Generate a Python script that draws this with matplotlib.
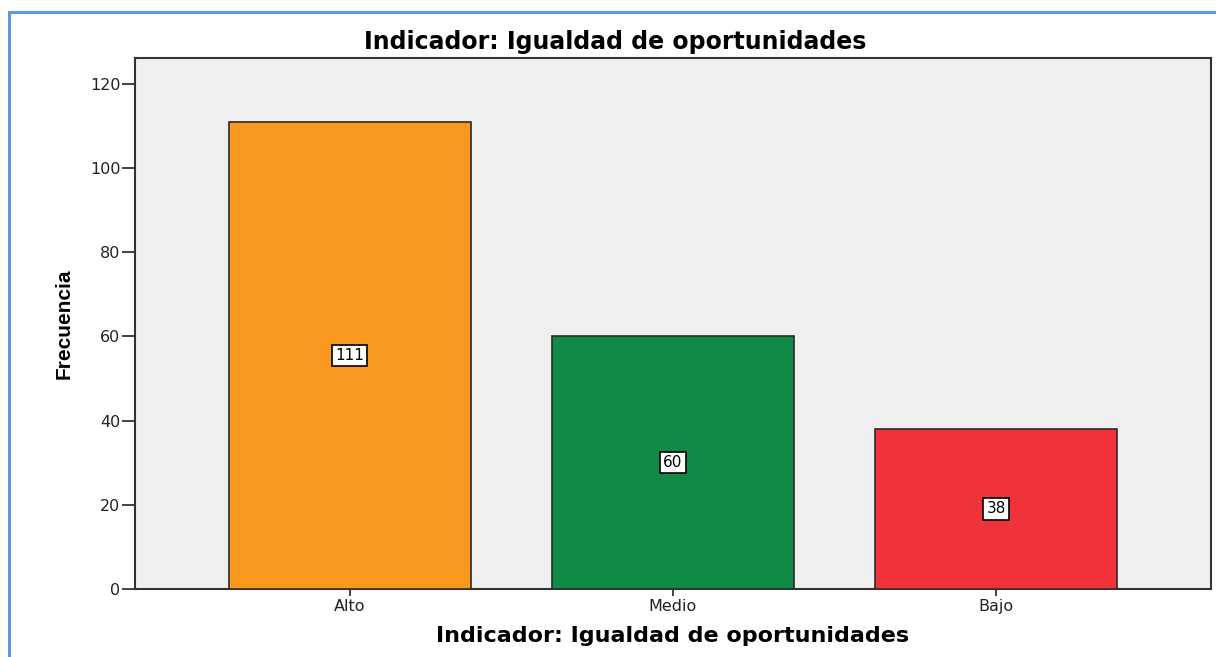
import matplotlib
matplotlib.use("Agg")
import matplotlib.pyplot as plt
from matplotlib.patches import Rectangle
from matplotlib import font_manager

categories = ["Alto", "Medio", "Bajo"]
values = [111, 60, 38]
colors = ["#F8981F", "#108B47", "#F0333B"]
yticks = [0, 20, 40, 60, 80, 100, 120]
title = "Indicador: Igualdad de oportunidades"

names = {f.name for f in font_manager.fontManager.ttflist}
base = "Liberation Sans" if "Liberation Sans" in names else "DejaVu Sans"
narrow = "Liberation Sans Narrow" if "Liberation Sans Narrow" in names else base
plt.rcParams['font.family'] = ['DejaVu Sans']

W, H, DPI = 1216, 657, 100
fig = plt.figure(figsize=(W / DPI, H / DPI), dpi=DPI)
fig.patch.set_facecolor("white")

# outer blue frame
fig.patches.append(Rectangle((9 / W, -0.05), 1.2, (H - 12) / H + 0.05,
                             transform=fig.transFigure, fill=False,
                             edgecolor="#5B9BD5", linewidth=2.2))

left, right, top, bottom = 135, 1211, 58, 589
ax = fig.add_axes([left / W, 1 - bottom / H, (right - left) / W, (bottom - top) / H])
ax.set_facecolor("#EFEFEF")
x = list(range(len(categories)))
ax.bar(x, values, width=0.75, color=colors, edgecolor="#2A2A2A", linewidth=1.2, zorder=3)
ax.set_xlim(-0.665, 2.665)
ax.set_ylim(0, 126.1)
ax.set_yticks(yticks)
ax.set_yticklabels([str(t) for t in yticks], fontsize=11.5, color="#222222")
ax.set_xticks(x)
ax.set_xticklabels(categories, fontsize=11.5, color="#222222")
ax.tick_params(axis="y", length=9.5, width=1.2, color="#222222", pad=1)
ax.tick_params(axis="x", length=5, width=1.2, color="#222222", pad=2)
for s in ax.spines.values():
    s.set_color("#333333")
    s.set_linewidth(1.5)

for xi, v in zip(x, values):
    ax.text(xi, v / 2, str(v), ha="center", va="center", fontsize=11, color="black",
            zorder=5,
            bbox=dict(boxstyle="square,pad=0.2", facecolor="white", edgecolor="black", linewidth=1.2))

ax.set_xlabel(title, fontsize=16, fontweight="bold", labelpad=9)
ax.set_ylabel("Frecuencia", fontsize=15, fontweight="bold", labelpad=12,
              family=[narrow, 'DejaVu Sans'])
fig.text(615 / W, 1 - 42 / H, title, fontsize=17, fontweight="bold",
         ha="center", va="center")

fig.savefig("out.png", dpi=DPI)
